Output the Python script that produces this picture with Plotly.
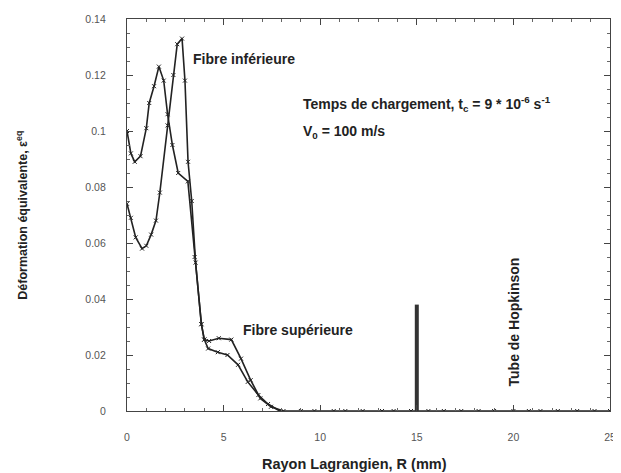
import plotly.graph_objects as go

# Data
r_lower = [0, 0.2, 0.4, 0.7, 1.0, 1.15, 1.4, 1.65, 1.9, 2.1, 2.35, 2.65, 3.15, 3.5, 3.85,
           4.0, 4.25, 4.75, 5.4, 5.9, 6.4, 6.9, 7.45, 8.1,
           9.0, 9.7, 10.7, 11.3, 12.2, 13.2, 13.8, 14.7, 15.6, 16.4, 17.3, 18.2, 19.0,
           20.0, 20.8, 21.4, 22.3, 23.3, 24.2, 25.0]
eps_lower = [0.100, 0.092, 0.089, 0.091, 0.101, 0.110, 0.116, 0.123, 0.118, 0.106, 0.095, 0.085, 0.082, 0.055, 0.031,
             0.0255, 0.025, 0.026, 0.0255, 0.0187, 0.011, 0.0045, 0.0015, 0.0,
             0, 0, 0, 0, 0, 0, 0, 0, 0, 0, 0, 0, 0,
             0, 0, 0, 0, 0, 0, 0]

r_upper = [0, 0.2, 0.45, 0.78, 1.0, 1.25, 1.5, 1.7, 2.1, 2.4, 2.6, 2.85, 3.0, 3.16, 3.35, 3.55, 3.85,
           4.0, 4.2, 4.7, 5.2, 5.75, 6.25, 6.8, 7.3, 7.9]
eps_upper = [0.074, 0.069, 0.062, 0.058, 0.059, 0.063, 0.068, 0.078, 0.102, 0.120, 0.131, 0.133, 0.118, 0.089, 0.075, 0.053, 0.031,
             0.0255, 0.0223, 0.021, 0.020, 0.0165, 0.0104, 0.0057, 0.0025, 0.0]

hopkinson_r = [15, 15]
hopkinson_eps = [0, 0.038]

x_ticks = [0, 5, 10, 15, 20, 25]
y_ticks = [0, 0.02, 0.04, 0.06, 0.08, 0.1, 0.12, 0.14]

FONT = "Liberation Sans, Arial, sans-serif"

fig = go.Figure()
for xs, ys in ((r_lower, eps_lower), (r_upper, eps_upper)):
    fig.add_trace(go.Scatter(x=xs, y=ys, mode="lines+markers",
                             line=dict(color="#222", width=1.6),
                             marker=dict(symbol="x-thin", size=4, color="#222",
                                         line=dict(width=1, color="#222")),
                             showlegend=False))
fig.add_trace(go.Scatter(x=hopkinson_r, y=hopkinson_eps, mode="lines",
                         line=dict(color="#333", width=4), showlegend=False))

axis_common = dict(ticks="inside", ticklen=6, tickcolor="#444", showline=True,
                   linecolor="#444", linewidth=1.2, mirror="ticks", showgrid=False,
                   zeroline=False, automargin=False,
                   tickfont=dict(size=10.5, color="#555"))
fig.update_layout(
    width=621, height=473,
    margin=dict(l=119, r=19, t=11, b=70),
    paper_bgcolor="white", plot_bgcolor="white",
    font=dict(family=FONT, size=11, color="#555"),
    xaxis=dict(range=[0, 25], tickvals=x_ticks, ticklabelstandoff=16,
               minor=dict(dtick=1, ticks="inside", ticklen=3, tickcolor="#666"),
               **axis_common),
    yaxis=dict(range=[0, 0.14], tickvals=y_ticks, ticklabelstandoff=18,
               minor=dict(dtick=0.005, ticks="inside", ticklen=3, tickcolor="#666"),
               **axis_common),
)

bold = dict(family=FONT, size=14, color="#222")
ann = [
    dict(text="<b>Fibre inférieure</b>", x=3.3, y=0.1257, xanchor="left", yanchor="middle"),
    dict(text="<b>Temps de chargement, t<sub>c</sub> = 9 * 10<sup>-6</sup> s<sup>-1</sup></b>",
         x=9.0, y=0.1096, xanchor="left", yanchor="middle"),
    dict(text="<b>V<sub>0</sub> = 100 m/s</b>", x=9.0, y=0.0996, xanchor="left", yanchor="middle"),
    dict(text="<b>Fibre supérieure</b>", x=5.9, y=0.0290, xanchor="left", yanchor="middle"),
]
for a in ann:
    fig.add_annotation(xref="x", yref="y", showarrow=False, font=bold, **a)

fig.add_annotation(xref="x", yref="y", x=20.05, y=0.008, text="<b>Tube de Hopkinson</b>",
                   textangle=-90, xanchor="center", yanchor="bottom", showarrow=False, font=bold)

fig.add_annotation(xref="paper", yref="paper", x=-0.218, y=0.5,
                   text="<b>Déformation équivalente, ε<sup>eq</sup></b>",
                   textangle=-90, showarrow=False, xanchor="center", yanchor="middle",
                   font=dict(family=FONT, size=12.5, color="#222"))
fig.add_annotation(xref="paper", yref="paper", x=0.47, y=-0.135,
                   text="<b>Rayon Lagrangien, R (mm)</b>", showarrow=False,
                   xanchor="center", yanchor="middle",
                   font=dict(family=FONT, size=14.5, color="#222"))

fig.write_html("out.html")
